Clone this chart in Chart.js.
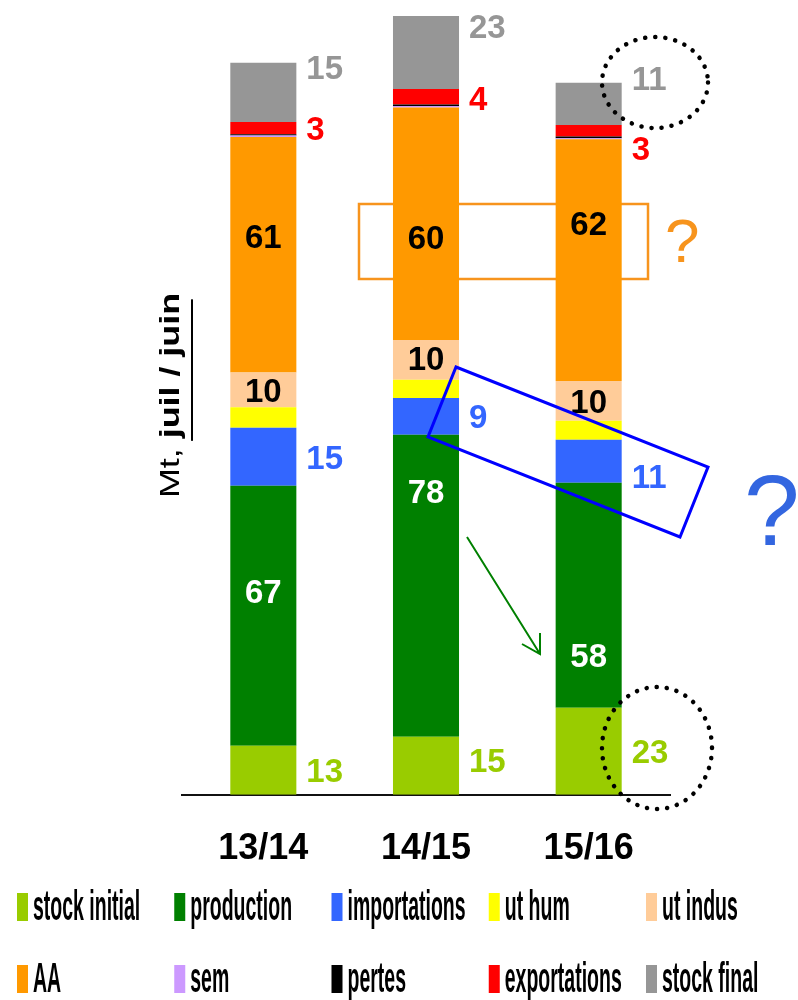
<!DOCTYPE html>
<html>
<head>
<meta charset="utf-8">
<script src="https://cdn.jsdelivr.net/npm/chart.js@4.4.1/dist/chart.umd.min.js"></script>
<style>
  html, body { margin: 0; padding: 0; background: #fff; }
  #wrap { width: 798px; height: 1000px; position: relative; }
</style>
</head>
<body>
<div id="wrap"><canvas id="bilan" width="798" height="1000"></canvas></div>
<script>
// campagnes
const campagnes = ['13/14', '14/15', '15/16'];

// ressources (Mt)
const stockInitial = [12.7, 15.0, 22.5];
const production = [67.2, 78.1, 58.2];
const importations = [15.0, 9.5, 11.1];
// emplois (Mt)
const utHum = [5.3, 4.7, 4.9];
const utIndus = [9.0, 10.3, 10.3];
const aa = [60.9, 60.1, 62.5];
const sem = [0.4, 0.4, 0.3];
const pertes = [0.3, 0.4, 0.4];
const exportations = [3.2, 4.0, 3.0];
const stockFinal = [15.3, 18.9, 10.9];

// chiffres affichés sur le graphique
const txtStockInitial = ['13', '15', '23'];
const txtProduction = ['67', '78', '58'];
const txtImportations = ['15', '9', '11'];
const txtUtIndus = ['10', '10', '10'];
const txtAA = ['61', '60', '62'];
const txtExportations = ['3', '4', '3'];
const txtStockFinal = ['15', '23', '11'];

const FONT = '"Liberation Sans", Arial, sans-serif';

const series = [
  { label: 'stock initial', data: stockInitial, color: '#99cc00' },
  { label: 'production', data: production, color: '#008000' },
  { label: 'importations', data: importations, color: '#3366ff' },
  { label: 'ut hum', data: utHum, color: '#ffff00' },
  { label: 'ut indus', data: utIndus, color: '#ffcc99' },
  { label: 'AA', data: aa, color: '#ff9900' },
  { label: 'sem', data: sem, color: '#cc99ff' },
  { label: 'pertes', data: pertes, color: '#000000' },
  { label: 'exportations', data: exportations, color: '#ff0000' },
  { label: 'stock final', data: stockFinal, color: '#969696' }
];

// where each number sits: inside the bar or to its right, plus a small vertical nudge (px)
const valueLabels = [
  { ds: 0, text: txtStockInitial, color: '#99cc00', pos: 'right', dy: [0, -6, 0] },
  { ds: 1, text: txtProduction, color: '#ffffff', pos: 'in', dy: [-25, -95, 60] },
  { ds: 2, text: txtImportations, color: '#3366ff', pos: 'right', dy: [0, 0, 15] },
  { ds: 4, text: txtUtIndus, color: '#000000', pos: 'in', dy: [0, -2, 0] },
  { ds: 5, text: txtAA, color: '#000000', pos: 'in', dy: [-19, 13, -37] },
  { ds: 8, text: txtExportations, color: '#ff0000', pos: 'right', dy: [0, 1, 17] },
  { ds: 9, text: txtStockFinal, color: '#969696', pos: 'right', dy: [-25, -26, -26] }
];

const valueLabelPlugin = {
  id: 'valueLabels',
  afterDatasetsDraw(chart) {
    const ctx = chart.ctx;
    ctx.save();
    ctx.font = 'bold 33px ' + FONT;
    ctx.textBaseline = 'alphabetic';
    valueLabels.forEach(l => {
      const meta = chart.getDatasetMeta(l.ds);
      meta.data.forEach((bar, i) => {
        const cy = (bar.y + bar.base) / 2 + l.dy[i];
        ctx.fillStyle = l.color;
        if (l.pos === 'in') {
          ctx.textAlign = 'center';
          ctx.fillText(l.text[i], bar.x, cy + 11.8);
        } else {
          ctx.textAlign = 'left';
          ctx.fillText(l.text[i], bar.x + bar.width / 2 + 10, cy + 11.8);
        }
      });
    });
    ctx.restore();
  }
};

// orange frame sits behind the bars
const backNotes = {
  id: 'backNotes',
  beforeDatasetsDraw(chart) {
    const ctx = chart.ctx;
    ctx.save();
    ctx.strokeStyle = '#f7941d';
    ctx.lineWidth = 2.5;
    ctx.strokeRect(359, 204, 289, 75);
    ctx.restore();
  }
};

// blue frame, dotted circles, arrow, question marks, axis title and legend
const frontNotes = {
  id: 'frontNotes',
  afterDraw(chart) {
    const ctx = chart.ctx;
    ctx.save();

    // blue tilted frame
    ctx.strokeStyle = '#0000ff';
    ctx.lineWidth = 3;
    ctx.beginPath();
    ctx.moveTo(456, 367);
    ctx.lineTo(708, 467);
    ctx.lineTo(680, 537);
    ctx.lineTo(428, 437);
    ctx.closePath();
    ctx.stroke();

    // dotted circles
    ctx.strokeStyle = '#000';
    ctx.lineWidth = 4.5;
    ctx.lineCap = 'round';
    ctx.setLineDash([0.1, 10]);
    ctx.beginPath();
    ctx.ellipse(655, 82.5, 53, 45.5, 0, 0, Math.PI * 2);
    ctx.stroke();
    ctx.beginPath();
    ctx.ellipse(657, 748, 55, 61, 0, 0, Math.PI * 2);
    ctx.stroke();
    ctx.setLineDash([]);

    // green arrow
    ctx.strokeStyle = '#008000';
    ctx.lineWidth = 2;
    ctx.lineCap = 'butt';
    ctx.beginPath();
    ctx.moveTo(467, 537);
    ctx.lineTo(540, 654);
    ctx.moveTo(522, 644);
    ctx.lineTo(540, 654);
    ctx.lineTo(540, 633);
    ctx.stroke();

    // question marks
    ctx.textAlign = 'left';
    ctx.textBaseline = 'alphabetic';
    ctx.fillStyle = '#f7941d';
    ctx.font = '62px ' + FONT;
    ctx.fillText('?', 665, 262);
    ctx.fillStyle = '#3366e0';
    ctx.font = '100px ' + FONT;
    ctx.fillText('?', 744, 545);

    // axis title, rotated
    ctx.save();
    ctx.translate(179, 498);
    ctx.rotate(-Math.PI / 2);
    ctx.scale(1.28, 1);
    ctx.fillStyle = '#000';
    ctx.font = '28px ' + FONT;
    ctx.fillText('Mt, ', 0, 0);
    const w0 = ctx.measureText('Mt, ').width;
    ctx.font = 'bold 28px ' + FONT;
    ctx.fillText('juil / juin', w0, 0);
    const w1 = ctx.measureText('juil / juin').width;
    ctx.fillRect(w0 - 2, 12, w1 - 3, 2);
    ctx.restore();

    // legend, 2 rows x 5 columns
    chart.data.datasets.forEach((ds, i) => {
      const col = i % 5;
      const row = Math.floor(i / 5);
      const x = 17 + col * 157.25;
      const top = row === 0 ? 893 : 965;
      ctx.fillStyle = ds.backgroundColor;
      ctx.fillRect(x, top, 11, 28);
      ctx.save();
      ctx.translate(x + 16, top + 27);
      ctx.scale(1, 2.2);
      ctx.fillStyle = '#000';
      ctx.font = 'bold 19.5px ' + FONT;
      ctx.fillText(ds.label, 0, 0);
      ctx.restore();
    });

    ctx.restore();
  }
};

new Chart(document.getElementById('bilan'), {
  type: 'bar',
  data: {
    labels: campagnes,
    datasets: series.map(s => ({
      label: s.label,
      data: s.data,
      backgroundColor: s.color,
      borderWidth: 0,
      barPercentage: 0.406,
      categoryPercentage: 1
    }))
  },
  options: {
    responsive: false,
    animation: false,
    layout: { padding: { left: 182, right: 128, top: 2, bottom: 96 } },
    plugins: {
      legend: { display: false },
      tooltip: { enabled: false }
    },
    scales: {
      x: {
        stacked: true,
        grid: { display: false, drawTicks: false },
        border: { display: true, color: '#111', width: 2 },
        ticks: {
          color: '#000',
          padding: 33,
          font: { family: FONT, size: 36, weight: 'bold' }
        }
      },
      y: {
        stacked: true,
        display: false,
        min: 0,
        max: 205
      }
    }
  },
  plugins: [backNotes, valueLabelPlugin, frontNotes]
});
</script>
</body>
</html>
